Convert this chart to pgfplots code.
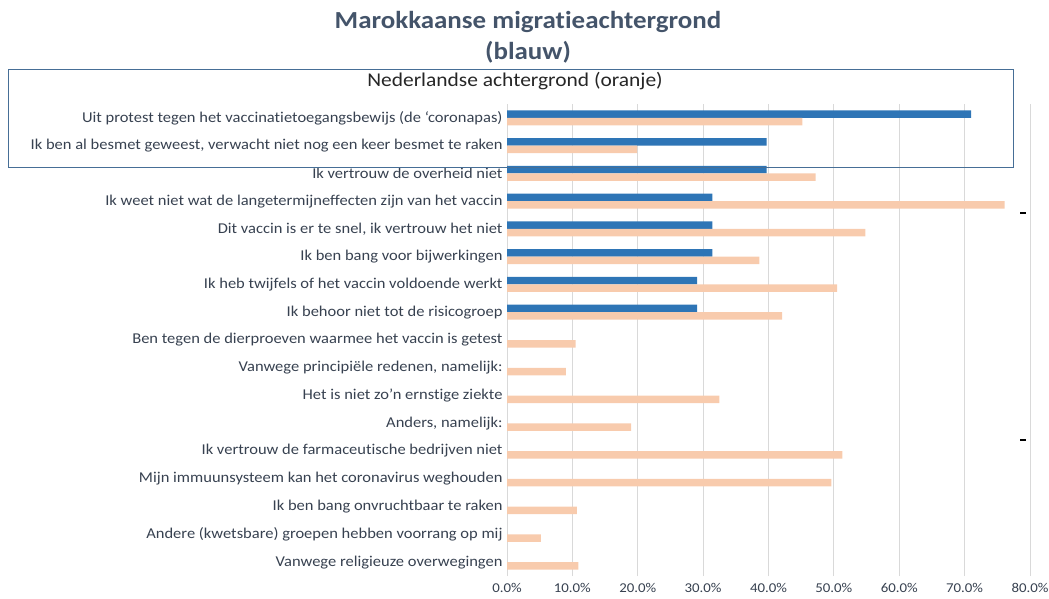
\documentclass[border=0pt]{standalone}
\usepackage{pgfplots}
\pgfplotsset{compat=1.18}
\usepackage{fontspec}
\setmainfont{Carlito}[FakeStretch=1.1, Ligatures=NoCommon]
\definecolor{myblue}{RGB}{46,117,182}
\definecolor{myorange}{RGB}{248,203,173}
\definecolor{txt}{RGB}{55,65,80}
\definecolor{titlec}{RGB}{68,84,106}
\definecolor{boxc}{RGB}{70,110,150}
\definecolor{gridc}{RGB}{217,217,217}
\begin{document}
\begin{tikzpicture}[x=1pt,y=1pt]
\useasboundingbox (0,0) rectangle (1049,-598);
\begin{axis}[
  at={(507pt,-576pt)}, anchor=south west,
  width=523pt, height=472pt, scale only axis,
  xbar, bar width=7.5pt,
  xmin=0, xmax=80, ymin=-0.5, ymax=16.5,
  axis line style={draw=none},
  xtick={0,10,...,80},
  xticklabel={\pgfmathprintnumber[fixed,fixed zerofill,precision=1]{\tick}\%},
  /pgf/number format/assume math mode=true,
  xmajorgrids, grid style={gridc, line width=1pt},
  major tick length=0pt,
  ytick={0,...,16},
  yticklabels={
    Vanwege religieuze overwegingen,
    Andere (kwetsbare) groepen hebben voorrang op mij,
    Ik ben bang onvruchtbaar te raken,
    Mijn immuunsysteem kan het coronavirus weghouden,
    Ik vertrouw de farmaceutische bedrijven niet,
    {Anders, namelijk:},
    Het is niet zo’n ernstige ziekte,
    {Vanwege principiële redenen, namelijk:},
    Ben tegen de dierproeven waarmee het vaccin is getest,
    Ik behoor niet tot de risicogroep,
    Ik heb twijfels of het vaccin voldoende werkt,
    Ik ben bang voor bijwerkingen,
    {Dit vaccin is er te snel, ik vertrouw het niet},
    Ik weet niet wat de langetermijneffecten zijn van het vaccin,
    Ik vertrouw de overheid niet,
    {Ik ben al besmet geweest, verwacht niet nog een keer besmet te raken},
    Uit protest tegen het vaccinatietoegangsbewijs (de ‘coronapas)
  },
  yticklabel style={font=\fontsize{15}{17}\selectfont, text=txt, xshift=-1pt},
  xticklabel style={font=\fontsize{13.5}{15}\selectfont, text=txt, yshift=-4pt},
]
\draw[gridc, line width=1pt] (axis cs:0,-0.5) -- (axis cs:0,16.5);
\addplot[fill=myblue, draw=none, bar shift=3.75pt] coordinates {
  (71.0,16) (39.7,15) (39.7,14) (31.4,13) (31.4,12) (31.4,11) (29.1,10) (29.1,9)
};
\addplot[fill=myorange, draw=none, bar shift=-3.75pt] coordinates {
  (45.2,16) (19.9,15) (47.2,14) (76.1,13) (54.8,12) (38.6,11) (50.5,10) (42.1,9)
  (10.5,8) (9.0,7) (32.5,6) (19.0,5) (51.3,4) (49.6,3) (10.7,2) (5.2,1) (10.9,0)
};
\end{axis}
\draw[boxc, line width=1pt] (8,-69) rectangle (1013,-167);
\node[font=\fontsize{19.5}{22}\selectfont, text=black!85] at (515,-81) {Nederlandse achtergrond (oranje)};
\node[font=\bfseries\fontsize{24.5}{27}\selectfont, text=titlec] at (528,-22) {Marokkaanse migratieachtergrond};
\node[font=\bfseries\fontsize{24.5}{27}\selectfont, text=titlec] at (528,-52) {(blauw)};
\draw[black, line width=1.5pt] (1020,-213) -- (1026,-213);
\draw[black, line width=1.5pt] (1020,-440) -- (1026,-440);
\end{tikzpicture}
\end{document}
